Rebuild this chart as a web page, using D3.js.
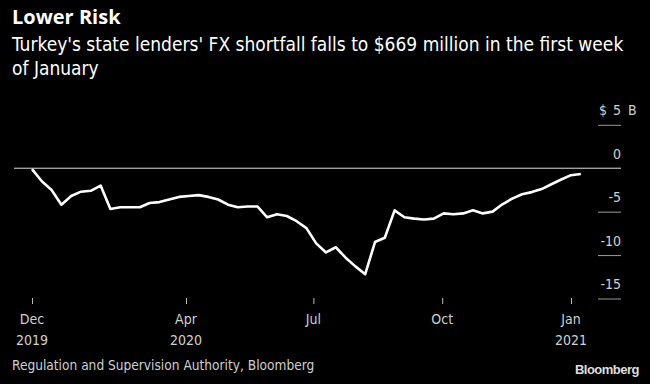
<!DOCTYPE html>
<html><head><meta charset="utf-8">
<script src="https://cdnjs.cloudflare.com/ajax/libs/d3/7.8.5/d3.min.js"></script>
<style>
html,body{margin:0;padding:0;background:#000;}
svg{display:block;}
text{font-family:"Liberation Sans Narrow","DejaVu Sans Condensed","Roboto Condensed",sans-serif;}
</style></head>
<body>
<script>
// ---- data ----
const startDate = "2019-12-13"; // first weekly observation
const shortfall = [-0.1, -1.5, -2.5, -4.2, -3.2, -2.7, -2.6, -2.0, -4.7, -4.5, -4.5, -4.5, -4.0, -3.9, -3.6, -3.3, -3.2, -3.1, -3.3, -3.6, -4.2, -4.5, -4.4, -4.4, -5.65, -5.3, -5.5, -6.1, -6.9, -8.65, -9.7, -9.1, -10.3, -11.3, -12.2, -8.5, -8.0, -4.85, -5.65, -5.8, -5.9, -5.8, -5.2, -5.3, -5.2, -4.85, -5.2, -5.0, -4.15, -3.5, -3.0, -2.75, -2.4, -1.85, -1.3, -0.8, -0.67];
const xTickDates = ["2019-12-13", "2020-04-01", "2020-07-01", "2020-10-01", "2021-01-01"];
const xTickLabels = [["Dec", "2019"], ["Apr", "2020"], ["Jul", ""], ["Oct", ""], ["Jan", "2021"]];
const yTicks = [5, 0, -5, -10, -15];
const yTickLabels = ["5", "0", "-5", "-10", "-15"];
const title = "Lower Risk";
const subtitle = ["Turkey's state lenders' FX shortfall falls to $669 million in the first week", "of January"];
const source = "Regulation and Supervision Authority, Bloomberg";

const W = 650, H = 384;
const parse = d3.utcParse("%Y-%m-%d");
const t0 = parse(startDate);
const data = shortfall.map((v, i) => ({date: d3.utcDay.offset(t0, 7 * i), value: v}));

const svg = d3.select("body").append("svg").attr("width", W).attr("height", H)
  .style("background", "#000");

const x = d3.scaleUtc().domain([data[0].date, data[data.length - 1].date]).range([32, 580.8]);
const y = d3.scaleLinear().domain([-15, 5]).range([298.5, 124.8]);

// titles
svg.append("text").attr("x", 12).attr("y", 24).attr("fill", "#fff")
  .style("font-family", "'Open Sans','DejaVu Sans',sans-serif")
  .style("font-weight", "bold").style("font-size", "20px").text(title);
svg.selectAll("text.sub").data(subtitle).join("text").attr("class", "sub")
  .attr("x", 12).attr("y", (d, i) => 51 + i * 24).attr("fill", "#fff")
  .style("font-size", "19px").text(d => d);

// y axis (right side, labels above short tick lines)
const yAxis = d3.axisRight(y).tickValues(yTicks.filter(v => v !== 0)).tickSize(23).tickFormat("");
const gy = svg.append("g").attr("transform", "translate(598,0)").call(yAxis);
gy.select(".domain").remove();
gy.selectAll(".tick line").attr("stroke", "#9a9a9a").attr("stroke-width", 1);

svg.selectAll("text.ylab").data(yTicks).join("text").attr("class", "ylab")
  .attr("x", 621).attr("y", d => y(d) - 9.5).attr("text-anchor", "end")
  .attr("fill", "#d0d0d0").style("font-size", "14px")
  .text((d, i) => yTickLabels[i]);
svg.append("text").attr("x", 607).attr("y", y(5) - 9.5).attr("text-anchor", "end")
  .attr("fill", "#d0d0d0").style("font-size", "14px").text("$");
svg.append("text").attr("x", 628).attr("y", y(5) - 9.5)
  .attr("fill", "#d0d0d0").style("font-size", "14px").text("B");

// zero line
svg.append("line").attr("x1", 14).attr("x2", 621).attr("y1", y(0)).attr("y2", y(0))
  .attr("stroke", "#e0e0e0").attr("stroke-width", 1);

// x axis
const xTicks = xTickDates.map(parse);
const xAxis = d3.axisBottom(x).tickValues(xTicks).tickSize(6).tickFormat("");
const gx = svg.append("g").attr("transform", "translate(0,298)").call(xAxis);
gx.select(".domain").remove();
gx.selectAll(".tick line").attr("stroke", "#bbb");
xTicks.forEach((d, i) => {
  xTickLabels[i].forEach((s, j) => {
    svg.append("text").attr("x", x(d)).attr("y", 324 + j * 21).attr("text-anchor", "middle")
      .attr("fill", "#d0d0d0").style("font-size", "14px").text(s);
  });
});

// line
const line = d3.line().x(d => x(d.date)).y(d => y(d.value));
svg.append("path").datum(data).attr("d", line).attr("fill", "none")
  .attr("stroke", "#fff").attr("stroke-width", 2.6).attr("stroke-linejoin", "round");

// footer
svg.append("text").attr("x", 12).attr("y", 370).attr("fill", "#d0d0d0")
  .style("font-size", "13.6px").text(source);
svg.append("text").attr("x", 639).attr("y", 374).attr("text-anchor", "end").attr("fill", "#ddd")
  .style("font-family", "'Liberation Sans','Arial',sans-serif")
  .style("font-weight", "bold").style("font-size", "13px").style("letter-spacing", "-0.5px").text("Bloomberg");
</script>
</body></html>
